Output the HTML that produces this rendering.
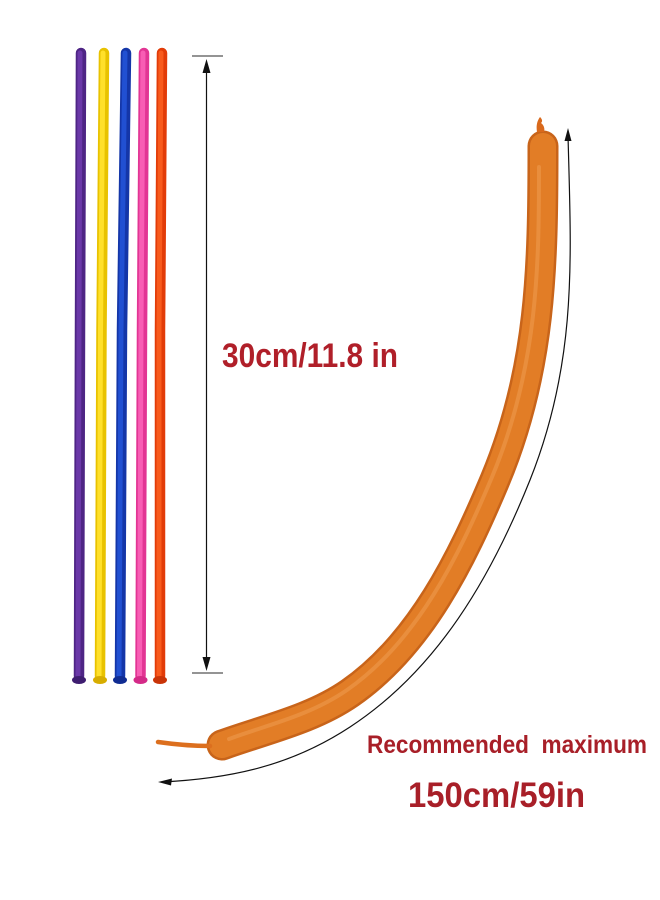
<!DOCTYPE html>
<html>
<head>
<meta charset="utf-8">
<style>
  html, body { margin: 0; padding: 0; background: #ffffff; }
  body { width: 660px; height: 900px; overflow: hidden; }
  svg { display: block; }
  .lbl { font-family: "Liberation Sans", "DejaVu Sans", sans-serif; font-weight: bold; white-space: pre; }
</style>
</head>
<body>
<svg width="660" height="900" viewBox="0 0 660 900" xmlns="http://www.w3.org/2000/svg">
  <rect width="660" height="900" fill="#ffffff"/>

  <!-- Left straight balloons -->
  <g stroke-linecap="round" fill="none">
    <path d="M81,53 L80,330 L79,676" stroke="#4e2585" stroke-width="10.5"/>
    <path d="M80,53 L79,330 L78,676" stroke="#6a38a8" stroke-width="5"/>
    <path d="M104,53 L101.5,330 L100,676" stroke="#e8c200" stroke-width="10.5"/>
    <path d="M103,53 L100.5,330 L99,676" stroke="#ffe02a" stroke-width="5"/>
    <path d="M126,53 L122,330 L120,676" stroke="#1436a8" stroke-width="10.5"/>
    <path d="M125,53 L121,330 L119,676" stroke="#2150d2" stroke-width="5"/>
    <path d="M144,53 L142,330 L140.5,676" stroke="#e23594" stroke-width="10.5"/>
    <path d="M143,53 L141,330 L139.5,676" stroke="#f85db4" stroke-width="5"/>
    <path d="M162,53 L160,330 L160,676" stroke="#e23c08" stroke-width="10.5"/>
    <path d="M161,53 L159,330 L159,676" stroke="#f85a1c" stroke-width="5"/>
  </g>
  <ellipse cx="79" cy="680" rx="7" ry="4" fill="#3e1d70"/>
  <ellipse cx="100" cy="680" rx="7" ry="4" fill="#d7ad00"/>
  <ellipse cx="120" cy="680" rx="7" ry="4" fill="#102c92"/>
  <ellipse cx="140.5" cy="680" rx="7" ry="4" fill="#d42a88"/>
  <ellipse cx="160" cy="680" rx="7" ry="4" fill="#c93408"/>

  <!-- Vertical dimension line -->
  <line x1="192" y1="56" x2="223" y2="56" stroke="#555" stroke-width="1.2"/>
  <line x1="192" y1="673" x2="223" y2="673" stroke="#555" stroke-width="1.2"/>
  <line x1="206.5" y1="66" x2="206.5" y2="664" stroke="#111" stroke-width="1.2"/>
  <polygon points="206.5,59 202.5,73 210.5,73" fill="#111"/>
  <polygon points="206.5,671 202.5,657 210.5,657" fill="#111"/>

  <!-- 30cm label -->
  <text class="lbl" x="222" y="367" font-size="34" fill="#b01f29" textLength="176" lengthAdjust="spacingAndGlyphs">30cm/11.8 in</text>

  <!-- Curved balloon -->
  <path d="M543,146 C543,266 541.4,369.4 495,480 C461.7,559.3 420.5,644 350,693 C312.3,719.2 265.2,729.4 222,745"
        fill="none" stroke="#c8641a" stroke-width="31" stroke-linecap="round" stroke-linejoin="round"/>
  <path d="M543,146 C543,266 541.4,369.4 495,480 C461.7,559.3 420.5,644 350,693 C312.3,719.2 265.2,729.4 222,745"
        fill="none" stroke="#e27d26" stroke-width="26" stroke-linecap="round" stroke-linejoin="round"/>
  <path transform="translate(-3,-3)" d="M542,170 C542,266 541.4,369.4 495,480 C461.7,559.3 420.5,644 350,693 C312.3,719.2 265.2,729.4 232,742"
        fill="none" stroke="#f0a054" stroke-opacity="0.5" stroke-width="4" stroke-linecap="round"/>
  <!-- top knot -->
  <path d="M537,132 C536,126 537,121 540,117 C542,119 543,121 541,123 C544,125 545,129 544,132 Z" fill="#d9691c"/>
  <!-- tail -->
  <path d="M210,746 Q186,746 158,742" fill="none" stroke="#dc6f1e" stroke-width="4.5" stroke-linecap="round"/>

  <!-- Curved measuring arc -->
  <path d="M568,135 C571,255 578.2,359.4 530,480 C491,577.4 437.8,669.4 350,727 C291.5,765.4 232,778.5 162,782"
        fill="none" stroke="#111" stroke-width="1.2"/>
  <polygon points="568,128 564.5,141 571.5,141" fill="#111"/>
  <polygon points="158,782 172,778.5 171,785.5" fill="#111"/>

  <!-- Bottom labels -->
  <text class="lbl" x="367" y="753" font-size="25" fill="#a81f28" textLength="280" lengthAdjust="spacingAndGlyphs">Recommended  maximum</text>
  <text class="lbl" x="408" y="807" font-size="35" fill="#a81f28" textLength="177" lengthAdjust="spacingAndGlyphs">150cm/59in</text>
</svg>
</body>
</html>
